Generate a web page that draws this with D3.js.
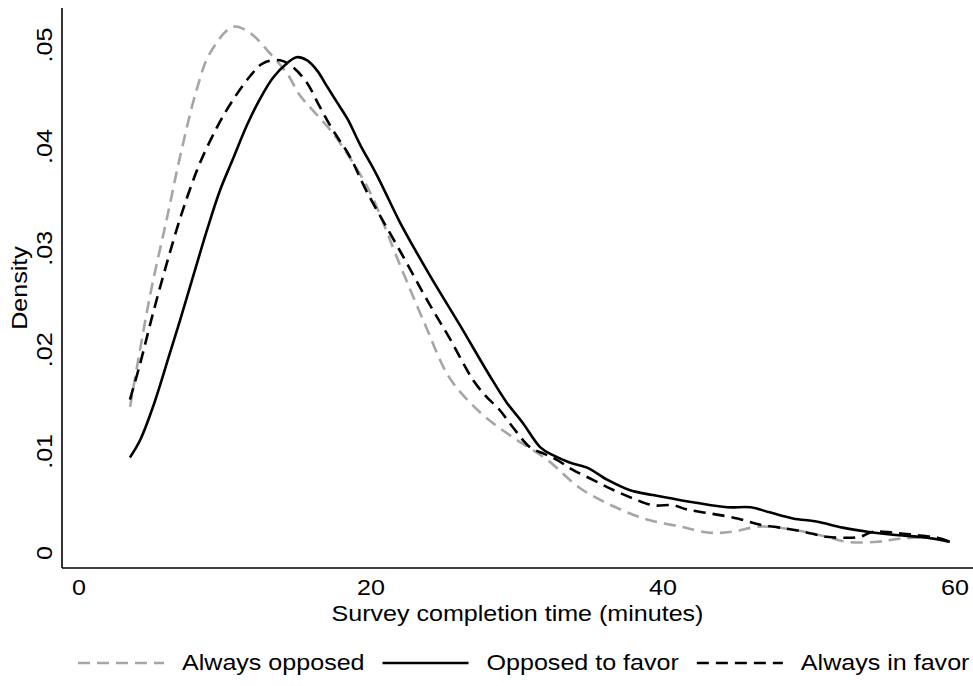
<!DOCTYPE html>
<html>
<head>
<meta charset="utf-8">
<script src="https://cdn.jsdelivr.net/npm/d3@7"></script>
<style>
    body { margin: 0; background: #fff; }
    svg { display: block; font-family: "Liberation Sans", Arial, sans-serif; }
</style>
</head>
<body>
<svg id="chart" width="973" height="686"></svg>
<script>
// chart.js -- kernel density of survey completion time, by group.

// ----------------------------------------------------------------------------
// Data
// ----------------------------------------------------------------------------

var seriesNames = ["Always opposed", "Opposed to favor", "Always in favor"];

var xTicks = [0, 20, 40, 60];
var yTicks = [0, 0.01, 0.02, 0.03, 0.04, 0.05];

// Always opposed: [minutes, density]
var alwaysOpposed = [
    [3.5, .0144], [4.86, .0253], [6.03, .0330], [6.92, .0390], [8.08, .0457],
    [8.97, .0492], [10.55, .0518], [11.7, .0512], [12.88, .0495], [14.25, .0472],
    [15.1, .0451], [16.0, .0436], [17.4, .0413], [19.2, .0374], [20.1, .0350],
    [22.0, .0283], [23.7, .0225], [25.4, .0172], [27.5, .0138], [29.7, .0114],
    [32.05, .0092], [34.3, .0064], [36.6, .0046], [38.9, .0033], [41.2, .0026],
    [43.2, .0020], [44.8, .0021], [46.6, .0026], [48.9, .0023], [51.2, .0016],
    [52.6, .0011], [54.7, .0011], [56.2, .0014], [58.1, .0015], [59.6, .0011]
];

// Opposed to favor
var opposedToFavor = [
    [3.49, .0094], [4.18, .0111], [5.07, .0144], [6.23, .0197], [6.92, .0229],
    [8.08, .0285], [8.77, .0318], [9.66, .0357], [10.55, .0388], [11.5, .0421],
    [12.4, .0447], [13.3, .0468], [14.25, .0482], [14.9, .0488], [15.6, .0485],
    [16.3, .0475], [17.0, .0459], [17.7, .0443], [18.4, .0427], [19.25, .0402],
    [20.4, .0372], [22.0, .0325], [24.0, .0274], [26.1, .0224], [28.15, .0174],
    [29.3, .0148], [30.4, .0128], [31.6, .0104], [32.5, .0096], [33.6, .0089],
    [34.8, .0084], [36.2, .0072], [37.7, .0062], [39.3, .0057], [41.2, .0052],
    [42.05, .0050], [44.4, .0045], [46.0, .0045], [47.3, .0040], [48.9, .0034],
    [50.5, .0031], [52.3, .0025], [54.0, .0021], [55.75, .0018], [58.1, .0015],
    [59.65, .0011]
];

// Always in favor
var alwaysInFavor = [
    [3.49, .0151], [4.18, .0186], [5.07, .0236], [6.03, .0286], [6.92, .0329],
    [7.6, .0358], [8.29, .0384], [9.45, .0419], [10.55, .0446], [11.7, .0469],
    [12.6, .0482], [13.77, .0485], [14.66, .0478], [15.6, .0463], [16.5, .0439],
    [17.4, .0416], [18.56, .0390], [19.7, .0356], [22.0, .0297], [24.0, .0245],
    [25.4, .0211], [27.0, .0170], [27.9, .0154], [28.8, .0141], [29.7, .0124],
    [30.9, .0104], [31.8, .0098], [32.7, .0092], [33.8, .0082], [35.2, .0072],
    [36.6, .0062], [37.9, .0054], [39.3, .0047], [40.7, .0047], [41.6, .0043],
    [43.2, .0039], [45.1, .0034], [46.6, .0028], [48.0, .0025], [49.6, .0021],
    [51.2, .0016], [52.6, .0015], [53.5, .0016], [54.4, .0021], [55.75, .0020],
    [57.1, .0018], [58.8, .0015], [59.65, .0011]
];

var allSeries = [alwaysOpposed, opposedToFavor, alwaysInFavor];

// ----------------------------------------------------------------------------
// Layout and styles
// ----------------------------------------------------------------------------

var frame = {left: 62, right: 973, top: 8, bottom: 568};
var fontSize = 22;
var stretch = 1.14;   // the reference text is wide for its height
var styles = [
    {stroke: "#a6a6a6", dash: "12,7"},
    {stroke: "#000000", dash: null},
    {stroke: "#000000", dash: "12,7"}
];

// ----------------------------------------------------------------------------
// Drawing
// ----------------------------------------------------------------------------

// Add a text centred vertically on (x, y), stretched along its own direction.
function addText(parent, x, y, str, anchor, angle) {
    return parent.append("text")
        .attr("transform", "translate(" + x + "," + y + ") rotate(" + (angle || 0) +
              ") scale(" + stretch + ",1)")
        .attr("text-anchor", anchor || "middle")
        .attr("dominant-baseline", "central")
        .attr("font-size", fontSize)
        .text(str);
}

function drawChart() {
    var svg = d3.select("#chart");

    var x = d3.scaleLinear().domain([0, 60]).range([79, 955]);
    var y = d3.scaleLinear().domain([0, 0.05]).range([553, 45]);

    // Strip the leading zero like Stata does (".05").
    var fmtY = function(d) {
        return d === 0 ? "0" : d3.format(".2f")(d).replace(/^0/, "");
    };

    // Axis lines
    svg.append("line")
        .attr("x1", frame.left).attr("x2", frame.left)
        .attr("y1", frame.top).attr("y2", frame.bottom)
        .attr("stroke", "#000").attr("stroke-width", 1.6);
    svg.append("line")
        .attr("x1", frame.left).attr("x2", frame.right)
        .attr("y1", frame.bottom).attr("y2", frame.bottom)
        .attr("stroke", "#000").attr("stroke-width", 1.6);

    // Tick labels (no tick marks in the reference)
    var yLabels = svg.append("g");
    yTicks.forEach(function(d) { addText(yLabels, 45, y(d), fmtY(d), "middle", -90); });
    var xLabels = svg.append("g");
    xTicks.forEach(function(d) { addText(xLabels, x(d), 588, d); });

    // Axis titles
    addText(svg, 20, (frame.top + frame.bottom) / 2, "Density", "middle", -90);
    addText(svg, (frame.left + frame.right) / 2, 614, "Survey completion time (minutes)");

    // Density curves
    var line = d3.line()
        .x(function(d) { return x(d[0]); })
        .y(function(d) { return y(d[1]); })
        .curve(d3.curveCatmullRom.alpha(0.5));

    svg.append("g").selectAll("path")
        .data(allSeries)
        .enter().append("path")
        .attr("d", line)
        .attr("fill", "none")
        .attr("stroke", function(d, i) { return styles[i].stroke; })
        .attr("stroke-dasharray", function(d, i) { return styles[i].dash; })
        .attr("stroke-width", 2.6);

    // Legend: key line then label, laid out left to right
    var legend = svg.append("g");
    var cursor = 78;
    seriesNames.forEach(function(name, i) {
        legend.append("line")
            .attr("x1", cursor).attr("x2", cursor + 86)
            .attr("y1", 663).attr("y2", 663)
            .attr("stroke", styles[i].stroke)
            .attr("stroke-dasharray", styles[i].dash)
            .attr("stroke-width", 2.6);
        var label = addText(legend, cursor + 104, 663, name, "start");
        cursor += 104 + label.node().getComputedTextLength() * stretch + 18;
    });
}

drawChart();
</script>
</body>
</html>
